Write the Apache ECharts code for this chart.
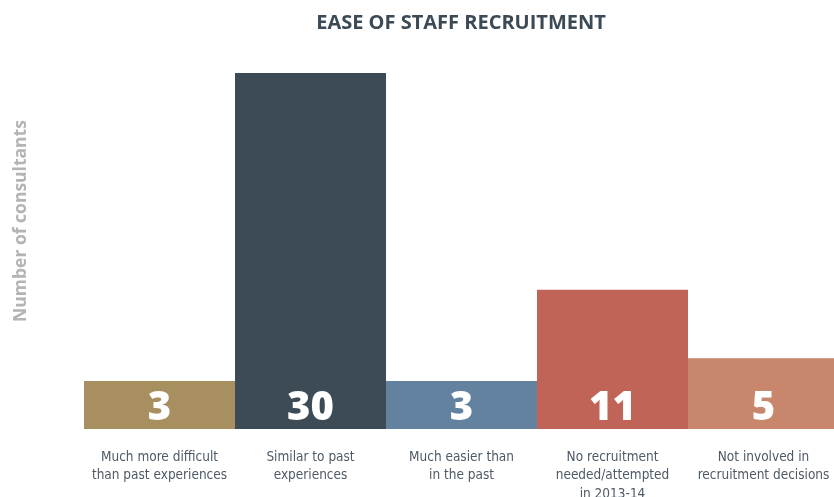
<!DOCTYPE html>
<html>
<head>
<meta charset="utf-8">
<script src="https://cdn.jsdelivr.net/npm/echarts@6/dist/echarts.min.js"></script>
<style>
  html, body { margin: 0; padding: 0; background: #fff; }
  #chart { width: 834px; height: 497px; }
</style>
</head>
<body>
<div id="chart"></div>
<script>
const categories = [
  "Much more difficult\nthan past experiences",
  "Similar to past\nexperiences",
  "Much easier than\nin the past",
  "No recruitment\nneeded/attempted\nin 2013-14",
  "Not involved in\nrecruitment decisions"
];
const consultants = [3, 30, 3, 11, 5];
const barColors = ["#a88f5f", "#3c4b56", "#62829f", "#c06458", "#c8876c"];

let initChart = option => {
  const chart = echarts.init(document.querySelector("#chart"), null, { renderer: "canvas" });
  chart.setOption(option);
  return chart;
};

let option = {
  animation: false,
  title: {
    text: "EASE OF STAFF RECRUITMENT",
    left: 456,
    textAlign: "center",
    top: 8,
    textStyle: { fontFamily: "Open Sans", fontWeight: "bold", fontSize: 20, color: "#3c4a55" }
  },
  graphic: [{
    type: "text",
    x: 21,
    y: 221,
    rotation: Math.PI / 2,
    style: {
      text: "Number of consultants",
      align: "center",
      verticalAlign: "middle",
      fill: "#b4b4b4",
      font: 'bold 17.5px "Open Sans"'
    }
  }],
  grid: { left: 84, width: 755, top: 73, height: 356, outerBoundsMode: "none", containLabel: false },
  xAxis: {
    type: "category",
    data: categories,
    axisLine: { show: false },
    axisTick: { show: false },
    axisLabel: {
      interval: 0,
      margin: 19,
      color: "#4e5a65",
      fontFamily: "'DejaVu Sans Condensed', 'Liberation Sans Narrow', 'Noto Sans', sans-serif",
      fontSize: 13.5,
      lineHeight: 18.5
    }
  },
  yAxis: {
    type: "value",
    min: -1.2,
    max: 30,
    startValue: -1.2,
    show: false,
    splitLine: { show: false }
  },
  series: [{
    type: "bar",
    barWidth: "100%",
    barCategoryGap: 0,
    data: consultants.map((v, i) => ({ value: v, itemStyle: { color: barColors[i] } })),
    label: {
      show: true,
      position: "insideBottom",
      distance: 0,
      color: "#fff",
      fontFamily: "Open Sans",
      fontWeight: 800,
      fontSize: 40
    }
  }]
};

initChart(option);
</script>
</body>
</html>
